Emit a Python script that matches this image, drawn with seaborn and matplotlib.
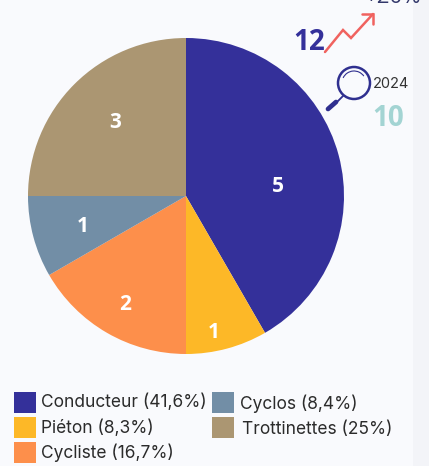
import matplotlib
matplotlib.use('Agg')
import matplotlib.pyplot as plt
from matplotlib.patches import Circle, Rectangle, Arc
import seaborn as sns

# Chart values
categories = ['Conducteur', 'Piéton', 'Cycliste', 'Cyclos', 'Trottinettes']
counts = [5, 1, 2, 1, 3]
legend_labels = ['Conducteur (41,6%)', 'Piéton (8,3%)', 'Cycliste (16,7%)', 'Cyclos (8,4%)', 'Trottinettes (25%)']
colors = ['#34309a', '#fdb827', '#fd8f4b', '#728ea6', '#ab9672']
total_now = '12'
total_before = '10'
year_before = '2024'
change = '+20%'

W, H = 429, 466
BG = '#f9fafd'

sns.set_theme(style='white')
plt.rcParams['font.family'] = ['Inter', 'DejaVu Sans']

fig = plt.figure(figsize=(W / 100, H / 100), dpi=100, facecolor=BG)

# stripe on the right side
fig.add_artist(Rectangle((413 / W, 0), 16 / W, 1, color='#f3f4f8', lw=0, transform=fig.transFigure))

# pie
cx, cy, r = 186, 196, 158
pie_ax = fig.add_axes([(cx - r) / W, 1 - (cy + r) / H, 2 * r / W, 2 * r / H])
pie_ax.pie(counts, colors=colors, startangle=90, counterclock=False, radius=1,
           wedgeprops=dict(lw=0))
pie_ax.set_xlim(-1, 1)
pie_ax.set_ylim(-1, 1)

# overlay in pixel coordinates for the annotations and the legend
over = fig.add_axes([0, 0, 1, 1], zorder=3)
over.set_xlim(0, W)
over.set_ylim(H, 0)
over.axis('off')

# the slice numbers are not centred on the slices in the original
label_x = [278, 214, 125, 83, 115]
label_y = [187, 333, 304, 226, 123]
for c, lx, ly in zip(counts, label_x, label_y):
    over.text(lx, ly, str(c), color='white', fontsize=15, fontweight='bold', family='Open Sans',
              ha='center', va='center')

# top right numbers
over.text(309, 42, total_now, color='#34309a', fontsize=20, fontweight='bold', family='Open Sans',
          ha='center', va='center')
over.text(393, 3, change, color='#33386b', fontsize=16, family='Open Sans', ha='center', va='baseline')
over.text(388, 118, total_before, color='#a3d4d3', fontsize=20, fontweight='bold', family='Open Sans',
          ha='center', va='center')
over.text(391, 84, year_before, color='#333333', fontsize=10.5, ha='center', va='center')

# red arrow
red = '#f0625f'
over.plot([325, 343, 351, 373], [52, 30, 38, 14], color=red, lw=1.8, solid_joinstyle='miter', solid_capstyle='round')
over.plot([362, 373, 373], [14, 14, 24], color=red, lw=1.8, solid_joinstyle='miter', solid_capstyle='round')

# magnifier
navy = '#2f2f8f'
over.add_patch(Circle((354, 83), 16, fill=False, ec=navy, lw=1.8))
over.add_patch(Arc((354, 83), 24, 24, theta1=205, theta2=325, ec=navy, lw=0.8))
over.plot([343, 336], [96, 103], color=navy, lw=1.3)
over.plot([336, 328], [102, 109], color=navy, lw=3.4, solid_capstyle='round')

# legend
box_x = [14, 14, 14, 212, 212]
box_y = [392, 417, 442, 392, 417]
text_x = [41, 41, 41, 240, 242]
text_y = [402, 428, 453, 404, 429]
for name, c, bx, by, tx, ty in zip(legend_labels, colors, box_x, box_y, text_x, text_y):
    over.add_patch(Rectangle((bx, by), 22, 21, color=c, lw=0))
    over.text(tx, ty, name, color='#2b2b2b', fontsize=12.5, ha='left', va='center')

fig.savefig('out.png', dpi=100, facecolor=BG)
